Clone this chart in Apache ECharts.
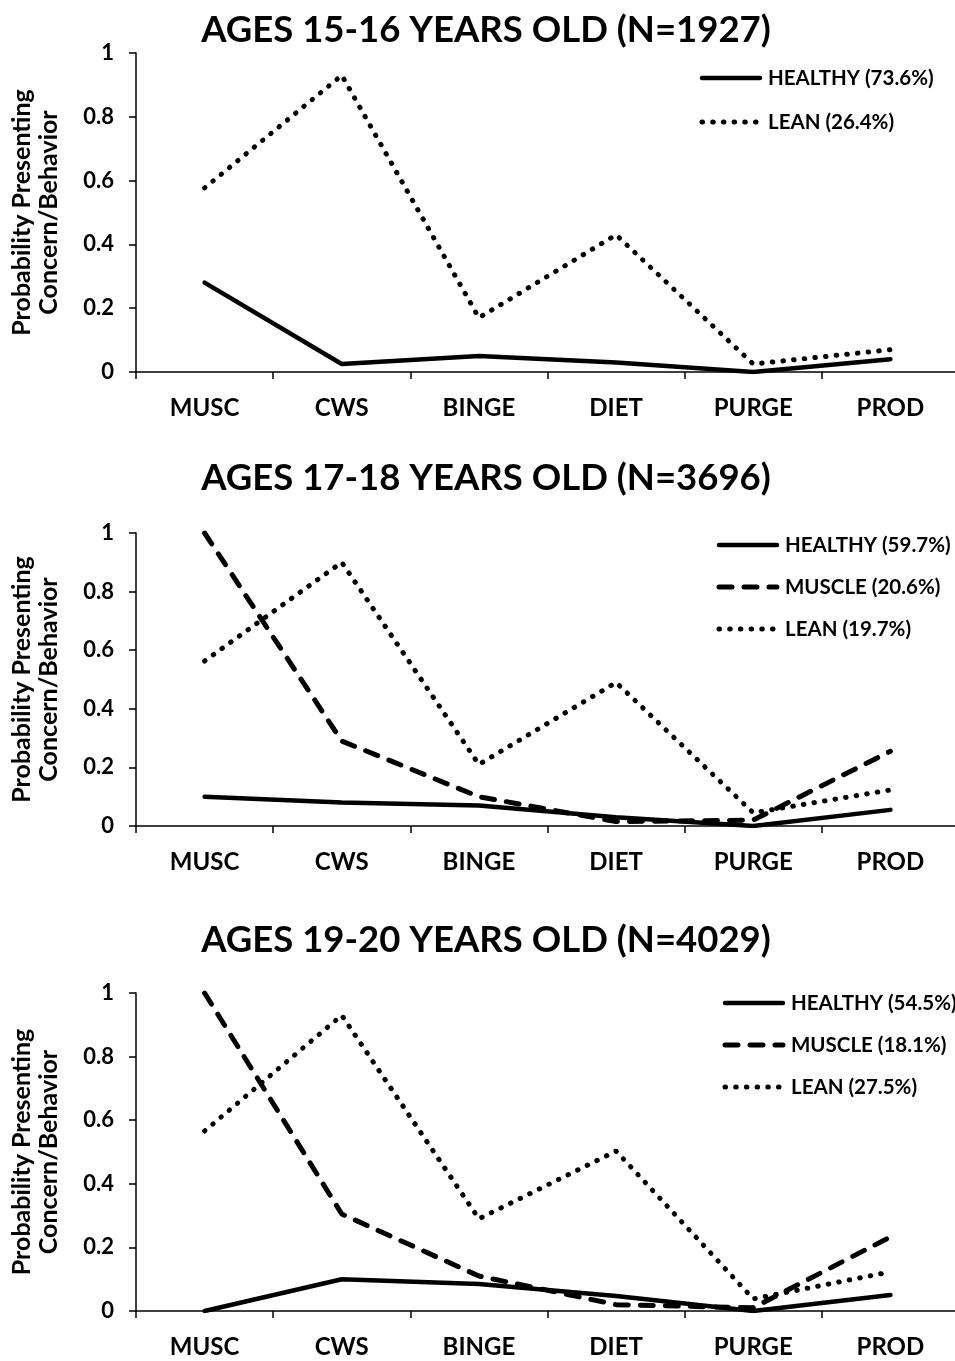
<!DOCTYPE html>
<html><head><meta charset="utf-8">
<script src="https://cdn.jsdelivr.net/npm/echarts@6/dist/echarts.min.js"></script>
<style>html,body{margin:0;padding:0;background:#fff}#c{width:955px;height:1361px}</style>
</head><body><div id="c"></div>
<script>
const categories = ['MUSC','CWS','BINGE','DIET','PURGE','PROD'];
const yTicks = [0, 0.2, 0.4, 0.6, 0.8, 1];
const titles = ['AGES 15-16 YEARS OLD (N=1927)','AGES 17-18 YEARS OLD (N=3696)','AGES 19-20 YEARS OLD (N=4029)'];
// Panel 1
const p1Healthy = [0.28, 0.025, 0.05, 0.03, 0.0, 0.04];
const p1Lean    = [0.577, 0.93, 0.17, 0.43, 0.025, 0.07];
const p1Names   = ['HEALTHY (73.6%)','LEAN (26.4%)'];
// Panel 2
const p2Healthy = [0.10, 0.08, 0.07, 0.03, 0.0, 0.055];
const p2Muscle  = [1.0, 0.29, 0.10, 0.015, 0.02, 0.255];
const p2Lean    = [0.563, 0.90, 0.21, 0.49, 0.045, 0.123];
const p2Names   = ['HEALTHY (59.7%)','MUSCLE (20.6%)','LEAN (19.7%)'];
// Panel 3
const p3Healthy = [0.0, 0.10, 0.085, 0.047, 0.0, 0.05];
const p3Muscle  = [1.0, 0.305, 0.11, 0.02, 0.01, 0.233];
const p3Lean    = [0.566, 0.93, 0.29, 0.503, 0.038, 0.123];
const p3Names   = ['HEALTHY (54.5%)','MUSCLE (18.1%)','LEAN (27.5%)'];

const FONT = 'Lato';
const grids = [
  {left:136, top:53, width:823, height:319},
  {left:136, top:533, width:823, height:293},
  {left:136, top:993, width:823, height:318}
].map(g=>Object.assign(g,{containLabel:false, outerBoundsMode:'none'}));
const titleTops = [7, 455, 917];

const solid = {color:'#000', width:4.5, type:'solid', cap:'round'};
const dashed = {color:'#000', width:5, type:[13,12], cap:'round'};
const dotted = {color:'#000', width:5, type:[0.5,10.2], cap:'round'};

function mk(name, data, idx, ls, z){
  return {name, type:'line', data, xAxisIndex:idx, yAxisIndex:idx, symbol:'none',
    lineStyle:ls, itemStyle:{color:'#000'}, z:z, animation:false};
}
const series = [
  mk(p1Names[1], p1Lean, 0, dotted, 3),
  mk(p1Names[0], p1Healthy, 0, solid, 4),
  mk(p2Names[2], p2Lean, 1, dotted, 3),
  mk(p2Names[1], p2Muscle, 1, dashed, 3),
  mk(p2Names[0], p2Healthy, 1, solid, 4),
  mk(p3Names[2], p3Lean, 2, dotted, 3),
  mk(p3Names[1], p3Muscle, 2, dashed, 3),
  mk(p3Names[0], p3Healthy, 2, solid, 4)
];

const axisLine = {show:true, lineStyle:{color:'#000', width:1.5}};
const xAxis = grids.map((g,i)=>({
  type:'category', gridIndex:i, data:categories, boundaryGap:true,
  axisLine, axisTick:{show:true, alignWithLabel:false, length:7, lineStyle:{color:'#000',width:1.5}},
  axisLabel:{color:'#000', fontFamily:FONT, fontWeight:'bold', fontSize:24, margin:24}
}));
const yAxis = grids.map((g,i)=>({
  type:'value', gridIndex:i, min:0, max:1, interval:0.2,
  axisLine, axisTick:{show:true, length:7, lineStyle:{color:'#000',width:1.5}},
  splitLine:{show:false},
  axisLabel:{color:'#000', fontFamily:FONT, fontWeight:'bold', fontSize:22, margin:22,
    formatter:v=>{const t=yTicks.find(x=>Math.abs(x-v)<1e-6); return t===undefined?'':String(t);}},
  name:'Probability Presenting\nConcern/Behavior', nameLocation:'middle', nameRotate:90, nameGap:74,
  nameTextStyle:{color:'#000', fontFamily:FONT, fontWeight:'bold', fontSize:25, lineHeight:27}
}));
const title = titles.map((t,i)=>({
  text:t, left:481, top:titleTops[i], textAlign:'center',
  textStyle:{color:'#000', fontFamily:FONT, fontWeight:'bold', fontSize:36.5}
}));

// Legends drawn as graphic elements (line sample + label)
const legendSpecs = [
  {x:700, ys:[78,122], names:p1Names, styles:[solid, dotted]},
  {x:717, ys:[545,587,629], names:p2Names, styles:[solid, dashed, dotted]},
  {x:723, ys:[1003,1045,1087], names:p3Names, styles:[solid, dashed, dotted]}
];
const graphic = [];
legendSpecs.forEach(sp=>{
  sp.names.forEach((nm,j)=>{
    const st = sp.styles[j];
    const isSolid = st.type==='solid';
    graphic.push({type:'line', shape:{x1:sp.x+2, y1:sp.ys[j], x2:sp.x+60, y2:sp.ys[j]},
      style:{stroke:'#000', lineWidth:st===solid?4.5:5, lineDash:isSolid?null:st.type, lineCap:'round'}, z:10});
    graphic.push({type:'text', x:sp.x+68, y:sp.ys[j],
      style:{text:nm, fill:'#000', font:'bold 20.5px '+FONT, textVerticalAlign:'middle', verticalAlign:'middle'}, z:10});
  });
});

const chart = echarts.init(document.getElementById('c'), null, {renderer:'canvas'});
chart.setOption({backgroundColor:'#fff', animation:false, title, grid:grids, xAxis, yAxis, series, graphic});
</script></body></html>
